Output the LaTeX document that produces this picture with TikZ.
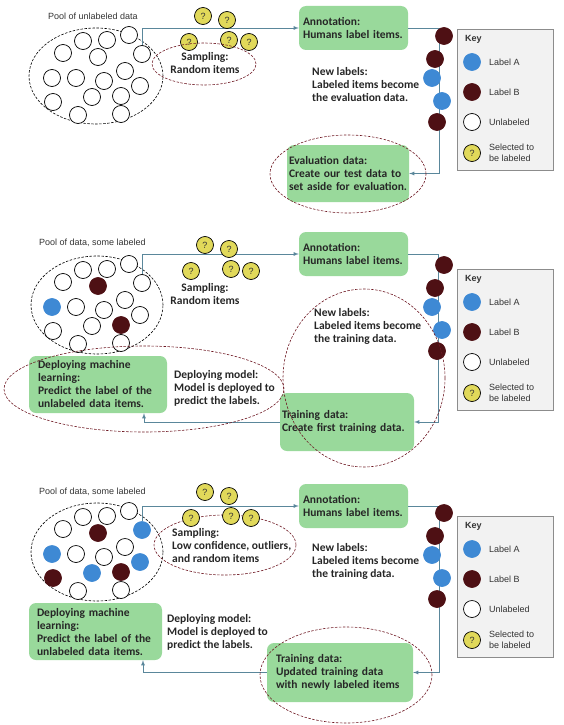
\documentclass[tikz,border=0pt]{standalone}
\usepackage{fontspec}
\setmainfont{Liberation Sans}
\newfontfamily\labfont{Carlito}

\definecolor{boxgreen}{RGB}{153,217,155}
\definecolor{labA}{RGB}{62,137,212}
\definecolor{labB}{RGB}{78,16,20}
\definecolor{queryY}{RGB}{225,217,90}
\definecolor{ellred}{RGB}{110,25,35}
\definecolor{flowcol}{RGB}{90,135,155}
\definecolor{keyfill}{RGB}{242,242,242}
\definecolor{keyline}{RGB}{140,140,140}

\tikzset{
  itemW/.style={circle, draw=black, line width=0.7pt, fill=white, minimum size=17pt, inner sep=0pt},
  itemA/.style={itemW, draw=labA, fill=labA},
  itemB/.style={itemW, draw=labB, fill=labB},
  itemQ/.style={itemW, fill=queryY, font=\fontsize{9}{9}\selectfont, text=black!80},
  greenbox/.style={fill=boxgreen, rounded corners=7pt, align=left, inner ysep=0pt,
    font=\labfont\bfseries\fontsize{11.5}{13}\selectfont, text=black!85},
  note/.style={anchor=west, align=left, inner sep=0pt,
    font=\labfont\bfseries\fontsize{11.5}{13}\selectfont, text=black!85},
  small/.style={anchor=west, align=left, inner sep=0pt, font=\fontsize{9}{11}\selectfont, text=black!80},
  flow/.style={->, >=latex, draw=flowcol, line width=0.8pt},
  ringred/.style={draw=ellred, dash pattern=on 2.5pt off 1.5pt, line width=0.6pt},
  ringblack/.style={draw=black, dash pattern=on 2.5pt off 1.5pt, line width=0.6pt},
  keybox/.style={draw=keyline, fill=keyfill, line width=1pt, anchor=north west,
    minimum width=96pt, minimum height=141pt},
}

\begin{document}
\begin{tikzpicture}[x=1pt,y=-1pt]
\useasboundingbox (0,0) rectangle (563,725);

% ---------- first round: random sampling, evaluation data

\node[small] (pool1) at (48,16) {Pool of unlabeled data};
\draw[ringblack] (96,76) ellipse [x radius=67pt, y radius=48pt];
\foreach \x/\y [count=\i] in {83/41,107/40,129/35,63/53,98/57,142/54,125/71,52/78,76/78,104/81,140/86,92/97,121/96,53/102,78/115,121/114}
  \node[itemW] (pool1-\i) at (\x,\y) {};

\node[greenbox, minimum width=109pt, minimum height=44pt, text width=101pt, inner xsep=4pt] (ann1) at (353.5,28)
  {Annotation:\\Humans label items.};
\node[greenbox, minimum width=122pt, minimum height=57pt, text width=118pt, inner xsep=2pt] (eval1) at (348,173.5)
  {Evaluation data:\\Create our test data to\\set aside for evaluation.};

\draw[flow] (pool1-6.north) |- (ann1.west);
\draw[flow] (ann1.east) -- ++(31,0) |- (eval1.east);

\foreach \x/\y [count=\i] in {203/16,227/20,189/42,229/40,249/42}
  \node[itemQ] (ask1-\i) at (\x,\y) {?};
\draw[ringred] (204,64) ellipse [x radius=52pt, y radius=21pt];
\node[note, anchor=center, align=center] (samp1) at (205,63.5) {Sampling:\\Random items};

\foreach \x/\y/\s [count=\i] in {444/36/itemB,435/59/itemB,432/78/itemA,442/101/itemA,437/122/itemB}
  \node[\s] (new1-\i) at (\x,\y) {};
\node[note] (newtxt1) at (312,84.5) {New labels:\\Labeled items become\\the evaluation data.};
\draw[ringred] (348,174) ellipse [x radius=78pt, y radius=39pt];

% ---------- second round: first training data

\node[small] (pool2) at (39,243) {Pool of data, some labeled};
\draw[ringblack] (97,305) ellipse [x radius=66pt, y radius=49pt];
\foreach \x/\y/\s [count=\i] in {83/41/itemW,107/40/itemW,129/35/itemW,63/53/itemW,98/57/itemB,142/54/itemW,125/71/itemW,52/78/itemA,
    76/78/itemW,104/81/itemW,140/86/itemW,92/97/itemW,121/96/itemB,53/102/itemW,78/115/itemW,121/114/itemW}
  \node[\s] (pool2-\i) at (\x,{\y+229}) {};

\node[greenbox, minimum width=109pt, minimum height=44pt, text width=101pt, inner xsep=4pt] (ann2) at (353.5,254)
  {Annotation:\\Humans label items.};
\node[greenbox, minimum width=134pt, minimum height=58pt, text width=130pt, inner xsep=2pt] (train2) at (347,422)
  {Training data:\\Create first training data.};
\node[greenbox, minimum width=138pt, minimum height=57pt, text width=120pt, inner xsep=9pt] (deploy2) at (98,384.5)
  {Deploying machine\\learning:\\Predict the label of the\\unlabeled data items.};

\draw[flow] (pool2-6.north) |- (ann2.west);
\draw[flow] (ann2.east) -- ++(30,0) |- (train2.east);
\draw[flow] (train2.west) -| ([xshift=46pt]deploy2.south);

\foreach \x/\y [count=\i] in {203/16,227/20,189/42,229/40,249/42}
  \node[itemQ] (ask2-\i) at ({\x+2},{\y+229}) {?};
\node[note, anchor=center, align=center] (samp2) at (205,294.5) {Sampling:\\Random items};

\foreach \x/\y/\s [count=\i] in {444/36/itemB,435/59/itemB,432/78/itemA,442/101/itemA,437/122/itemB}
  \node[\s] (new2-\i) at (\x,{\y+229}) {};
\node[note] (newtxt2) at (314,326.5) {New labels:\\Labeled items become\\the training data.};
\node[note] (model2) at (174,388.5) {Deploying model:\\Model is deployed to\\predict the labels.};

\draw[ringred] (364,378) ellipse [x radius=81pt, y radius=89pt];
\draw[ringred] (144,389) ellipse [x radius=140pt, y radius=43pt];

% ---------- third round: active learning sampling

\node[small] (pool3) at (39,492) {Pool of data, some labeled};
\draw[ringblack] (97,552) ellipse [x radius=66pt, y radius=49pt];
\foreach \x/\y/\s [count=\i] in {83/41/itemW,107/40/itemW,129/35/itemW,63/53/itemW,98/57/itemB,142/54/itemA,125/71/itemW,52/78/itemA,
    76/78/itemW,104/81/itemW,140/86/itemA,92/97/itemA,121/96/itemB,53/102/itemB,78/115/itemW,121/114/itemW}
  \node[\s] (pool3-\i) at (\x,{\y+476}) {};

\node[greenbox, minimum width=109pt, minimum height=44pt, text width=101pt, inner xsep=4pt] (ann3) at (353.5,506)
  {Annotation:\\Humans label items.};
\node[greenbox, minimum width=146pt, minimum height=59pt, text width=128pt, inner xsep=9pt] (train3) at (340,672.5)
  {Training data:\\Updated training data\\with newly labeled items};
\node[greenbox, minimum width=133pt, minimum height=57pt, text width=117pt, inner xsep=8pt] (deploy3) at (95.5,631.5)
  {Deploying machine\\learning:\\Predict the label of the\\unlabeled data items.};

\draw[flow] (pool3-6.north) |- (ann3.west);
\draw[flow] (ann3.east) -- ++(31,0) |- (train3.east);
\draw[flow] (train3.west) -| ([xshift=47.5pt]deploy3.south);

\draw[ringred] (225,545) ellipse [x radius=71pt, y radius=30pt];
\foreach \x/\y [count=\i] in {203/16,227/20,189/42,229/40,249/42}
  \node[itemQ] (ask3-\i) at ({\x+2},{\y+476}) {?};
\node[note] (samp3) at (172,545.5) {Sampling:\\Low confidence, outliers,\\and random items};

\foreach \x/\y/\s [count=\i] in {444/36/itemB,435/59/itemB,432/78/itemA,442/101/itemA,437/122/itemB}
  \node[\s] (new3-\i) at (\x,{\y+477}) {};
\node[note] (newtxt3) at (312,561.5) {New labels:\\Labeled items become\\the training data.};
\node[note] (model3) at (167,632.5) {Deploying model:\\Model is deployed to\\predict the labels.};

\draw[ringred] (346,675) ellipse [x radius=86pt, y radius=48pt];

% ---------- keys

\foreach \k/\dy in {1/0,2/240,3/487} {
  \node[keybox] (key\k) at (457,{29+\dy}) {};
  \node[small, font=\bfseries\fontsize{9}{11}\selectfont] (key\k-t) at (465,{39+\dy}) {Key};
  \node[itemA] (key\k-a) at (472,{62+\dy}) {};
  \node[small] (key\k-at) at (489,{62+\dy}) {Label A};
  \node[itemB] (key\k-b) at (472,{92+\dy}) {};
  \node[small] (key\k-bt) at (489,{92+\dy}) {Label B};
  \node[itemW] (key\k-w) at (472,{122+\dy}) {};
  \node[small] (key\k-wt) at (489,{122+\dy}) {Unlabeled};
  \node[itemQ] (key\k-q) at (472,{153+\dy}) {?};
  \node[small] (key\k-qt) at (489,{152.5+\dy}) {Selected to\\be labeled};
}

\end{tikzpicture}
\end{document}
